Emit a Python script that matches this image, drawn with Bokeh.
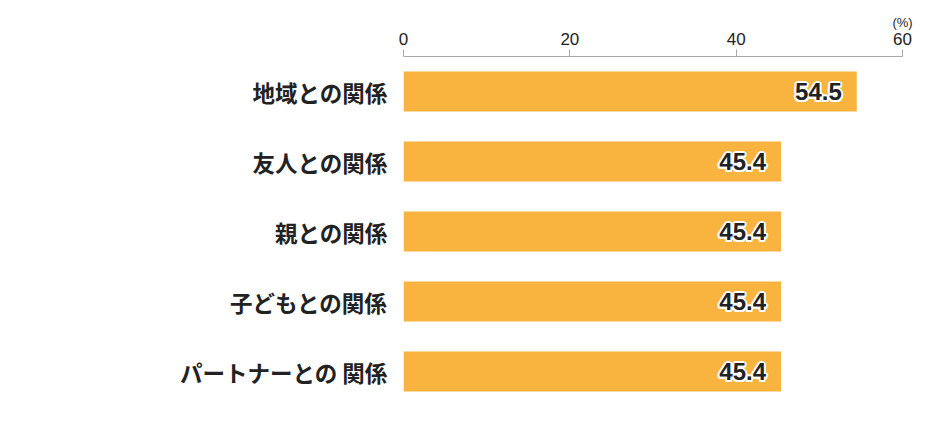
from bokeh.plotting import figure
from bokeh.models import ColumnDataSource, FixedTicker, FactorRange, Range1d, LinearAxis
from bokeh.core.properties import value
from bokeh.embed import file_html
from bokeh.resources import INLINE

categories = ["地域との関係", "友人との関係", "親との関係", "子どもとの関係", "パートナーとの 関係"]
values = [54.5, 45.4, 45.4, 45.4, 45.4]
x_ticks = [0, 20, 40, 60]
unit_label = "(%)"

BAR = "#F8B43E"
TXT = "#222222"

src = ColumnDataSource(dict(cat=categories, val=values, lab=[f"{v:.1f}" for v in values]))

p = figure(width=936, height=424, output_backend="svg", toolbar_location=None,
           y_range=FactorRange(factors=list(reversed(categories))),
           x_range=Range1d(0, 60), x_axis_location="above",
           min_border_left=403, min_border_right=34, min_border_top=56, min_border_bottom=18)
p.outline_line_color = None
p.grid.visible = False
p.background_fill_color = "white"

p.hbar(y="cat", right="val", left=0, height=0.57, source=src, color=BAR, line_color=None)

common = dict(x="val", y="cat", text="lab", source=src, text_align="right",
              text_baseline="middle", text_font=value("Liberation Sans"),
              text_font_style="bold", text_font_size="24px")
d = 2
for dx, dy in [(-d, 0), (d, 0), (0, -d), (0, d), (-1.5, -1.5), (1.5, -1.5), (-1.5, 1.5), (1.5, 1.5)]:
    p.text(x_offset=-15 + dx, y_offset=dy, text_color="white", **common)
p.text(x_offset=-15, text_color=TXT, **common)

xa = p.xaxis[0]
xa.ticker = FixedTicker(ticks=x_ticks)
xa.axis_line_color = "#AAAAAA"
xa.major_tick_line_color = "#AAAAAA"
xa.major_tick_out = 7
xa.major_tick_in = 0
xa.minor_tick_line_color = None
xa.major_label_standoff = 5
xa.major_label_text_font = "Liberation Sans"
xa.major_label_text_font_size = "17px"
xa.major_label_text_color = TXT

ua = LinearAxis(ticker=FixedTicker(ticks=[x_ticks[-1]]),
                major_label_overrides={x_ticks[-1]: unit_label})
ua.axis_line_color = None
ua.major_tick_line_color = None
ua.minor_tick_line_color = None
ua.major_tick_out = 0
ua.major_tick_in = 0
ua.major_label_standoff = 0
ua.major_label_text_font = "Liberation Sans"
ua.major_label_text_font_size = "13px"
ua.major_label_text_color = TXT
p.add_layout(ua, "above")

ya = p.yaxis[0]
ya.axis_line_color = None
ya.major_tick_line_color = None
ya.minor_tick_line_color = None
ya.major_tick_out = 0
ya.major_tick_in = 0
ya.major_label_standoff = 16
ya.major_label_text_font = "Noto Sans CJK JP"
ya.major_label_text_font_style = "bold"
ya.major_label_text_font_size = "22.5px"
ya.major_label_text_color = TXT

open("out.html", "w").write(file_html(p, INLINE))
